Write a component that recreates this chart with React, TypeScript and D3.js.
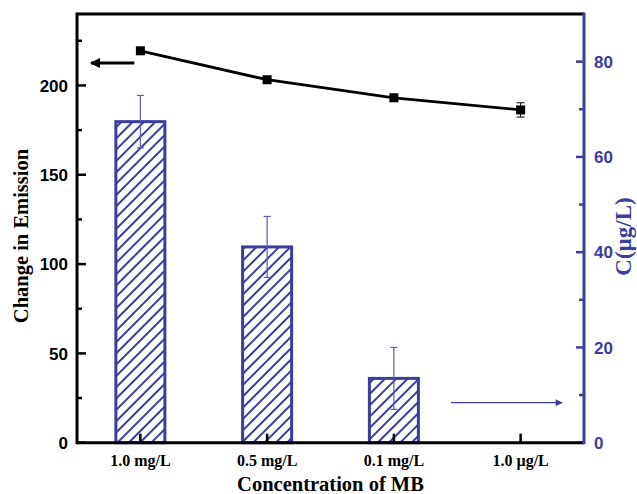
import React from "react";
import * as d3 from "d3";

const categories = ["1.0 mg/L", "0.5 mg/L", "0.1 mg/L", "1.0 µg/L"];
const emissionValues = [219.4, 203.2, 193.1, 186.3];
const emissionErrors = [1.5, 1.5, 1.5, 4];
const concValues = [67.4, 41.1, 13.5];
const concErrors = [5.5, 6.4, 6.5];
const leftMajorTicks = [0, 50, 100, 150, 200];
const leftMinorTicks = [25, 75, 125, 175, 225];
const rightMajorTicks = [0, 20, 40, 60, 80];
const rightMinorTicks = [10, 30, 50, 70];

const W = 637;
const H = 494;
const L = 77;
const R = 584;
const T = 14;
const B = 442.7;
const BLUE = "#3a3e9e";
const EBLUE = "#5a5db3";

export default function App() {
  const x = d3.scalePoint<string>().domain(categories).range([L, R]).padding(0.5);
  const yL = d3.scaleLinear().domain([0, 240]).range([B, T]);
  const yR = d3.scaleLinear().domain([0, 90]).range([B, T]);
  const barW = 49;
  const lineGen = d3
    .line<number>()
    .x((_, i) => x(categories[i]) as number)
    .y((d) => yL(d));

  const sans = "'Liberation Sans', Arial, sans-serif";
  const serif = "'Liberation Serif', 'Times New Roman', serif";
  const x0 = x(categories[0]) as number;

  return (
    <svg
      width={W}
      height={H}
      style={{ position: "absolute", left: 0, top: 0, background: "#fff" }}
    >
      <defs>
        <pattern
          id="hatch"
          patternUnits="userSpaceOnUse"
          width={8}
          height={8}
          patternTransform="rotate(45)"
        >
          <line x1={4} y1={0} x2={4} y2={8} stroke={BLUE} strokeWidth={2} />
        </pattern>
        <marker
          id="arrowBlack"
          viewBox="0 0 10 10"
          refX={9}
          refY={5}
          markerUnits="userSpaceOnUse"
          markerWidth={11}
          markerHeight={10}
          orient="auto"
        >
          <path d="M0,0 L10,5 L0,10 Z" fill="#000" />
        </marker>
        <marker
          id="arrowBlue"
          viewBox="0 0 10 10"
          refX={9}
          refY={5}
          markerUnits="userSpaceOnUse"
          markerWidth={12}
          markerHeight={7}
          orient="auto"
        >
          <path d="M0,0 L10,5 L0,10 Z" fill={BLUE} />
        </marker>
      </defs>

      {/* bars */}
      {concValues.map((v, i) => {
        const cx = x(categories[i]) as number;
        return (
          <rect
            key={"bar" + i}
            x={cx - barW / 2}
            y={yR(v)}
            width={barW}
            height={yR(0) - yR(v)}
            fill="url(#hatch)"
            stroke={BLUE}
            strokeWidth={3}
          />
        );
      })}
      {/* bar error bars */}
      {concValues.map((v, i) => {
        const cx = x(categories[i]) as number;
        const top = yR(v + concErrors[i]);
        const bot = yR(v - concErrors[i]);
        return (
          <g key={"eb" + i} stroke={EBLUE} strokeWidth={1.2}>
            <line x1={cx} x2={cx} y1={top} y2={bot} />
            <line x1={cx - 3.5} x2={cx + 3.5} y1={top} y2={top} />
            <line x1={cx - 3.5} x2={cx + 3.5} y1={bot} y2={bot} />
          </g>
        );
      })}

      {/* bottom ticks */}
      {categories.map((c) => (
        <line
          key={"bt" + c}
          x1={x(c) as number}
          x2={x(c) as number}
          y1={B}
          y2={B - 9}
          stroke="#000"
          strokeWidth={2.5}
        />
      ))}

      {/* left ticks */}
      {leftMajorTicks.map((t) => (
        <line key={"lm" + t} x1={L} x2={L + 9} y1={yL(t)} y2={yL(t)} stroke="#000" strokeWidth={2.5} />
      ))}
      {leftMinorTicks.map((t) => (
        <line key={"ln" + t} x1={L} x2={L + 5} y1={yL(t)} y2={yL(t)} stroke="#000" strokeWidth={2.5} />
      ))}
      {/* right ticks */}
      {rightMajorTicks.map((t) => (
        <line key={"rm" + t} x1={R} x2={R - 8} y1={yR(t)} y2={yR(t)} stroke={BLUE} strokeWidth={2.5} />
      ))}
      {rightMinorTicks.map((t) => (
        <line key={"rn" + t} x1={R} x2={R - 5} y1={yR(t)} y2={yR(t)} stroke={BLUE} strokeWidth={2.5} />
      ))}

      {/* frame */}
      <line x1={L} x2={R} y1={T} y2={T} stroke="#000" strokeWidth={3} />
      <line x1={L} x2={L} y1={T - 1.5} y2={B + 1.5} stroke="#000" strokeWidth={3} />
      <line x1={L} x2={R} y1={B} y2={B} stroke="#000" strokeWidth={3} />
      <line x1={R} x2={R} y1={T - 1.5} y2={B + 1.5} stroke={BLUE} strokeWidth={3} />

      {/* emission line */}
      <path d={lineGen(emissionValues) || ""} fill="none" stroke="#000" strokeWidth={2.8} />
      {emissionValues.map((v, i) => {
        const cx = x(categories[i]) as number;
        const top = yL(v + emissionErrors[i]);
        const bot = yL(v - emissionErrors[i]);
        return (
          <g key={"pt" + i}>
            <g stroke="#000" strokeWidth={1}>
              <line x1={cx} x2={cx} y1={top} y2={bot} />
              <line x1={cx - 4} x2={cx + 4} y1={top} y2={top} />
              <line x1={cx - 4} x2={cx + 4} y1={bot} y2={bot} />
            </g>
            <rect x={cx - 4.5} y={yL(v) - 4.5} width={9} height={9} fill="#000" />
          </g>
        );
      })}

      {/* arrows */}
      <line
        x1={x0 - 6}
        x2={L + 14}
        y1={yL(212.5)}
        y2={yL(212.5)}
        stroke="#000"
        strokeWidth={3}
        markerEnd="url(#arrowBlack)"
      />
      <line
        x1={451}
        x2={562}
        y1={yR(8.4)}
        y2={yR(8.4)}
        stroke={BLUE}
        strokeWidth={1.3}
        markerEnd="url(#arrowBlue)"
      />

      {/* left tick labels */}
      {leftMajorTicks.map((t) => (
        <text
          key={"ll" + t}
          x={68}
          y={yL(t)}
          dy="0.36em"
          textAnchor="end"
          fontFamily={sans}
          fontWeight="bold"
          fontSize={17}
          fill="#000"
        >
          {t}
        </text>
      ))}
      {/* right tick labels */}
      {rightMajorTicks.map((t) => (
        <text
          key={"rl" + t}
          x={594}
          y={yR(t)}
          dy="0.36em"
          textAnchor="start"
          fontFamily={sans}
          fontWeight="bold"
          fontSize={17}
          fill={BLUE}
        >
          {t}
        </text>
      ))}
      {/* category labels */}
      {categories.map((c) => (
        <text
          key={"cl" + c}
          x={x(c) as number}
          y={465.5}
          textAnchor="middle"
          fontFamily={serif}
          fontWeight="bold"
          fontSize={16}
          fill="#000"
        >
          {c}
        </text>
      ))}

      {/* axis titles */}
      <text
        x={(L + R) / 2}
        y={491}
        textAnchor="middle"
        fontFamily={serif}
        fontWeight="bold"
        fontSize={20.5}
        fill="#000"
      >
        Concentration of MB
      </text>
      <text
        transform={`translate(28, 236) rotate(-90)`}
        textAnchor="middle"
        fontFamily={serif}
        fontWeight="bold"
        fontSize={20.5}
        fill="#000"
      >
        Change in Emission
      </text>
      <text
        transform={`translate(631, 236.5) rotate(-90)`}
        textAnchor="middle"
        fontFamily={serif}
        fontWeight="bold"
        fontSize={23}
        fill={BLUE}
      >
        C(µg/L)
      </text>
    </svg>
  );
}
